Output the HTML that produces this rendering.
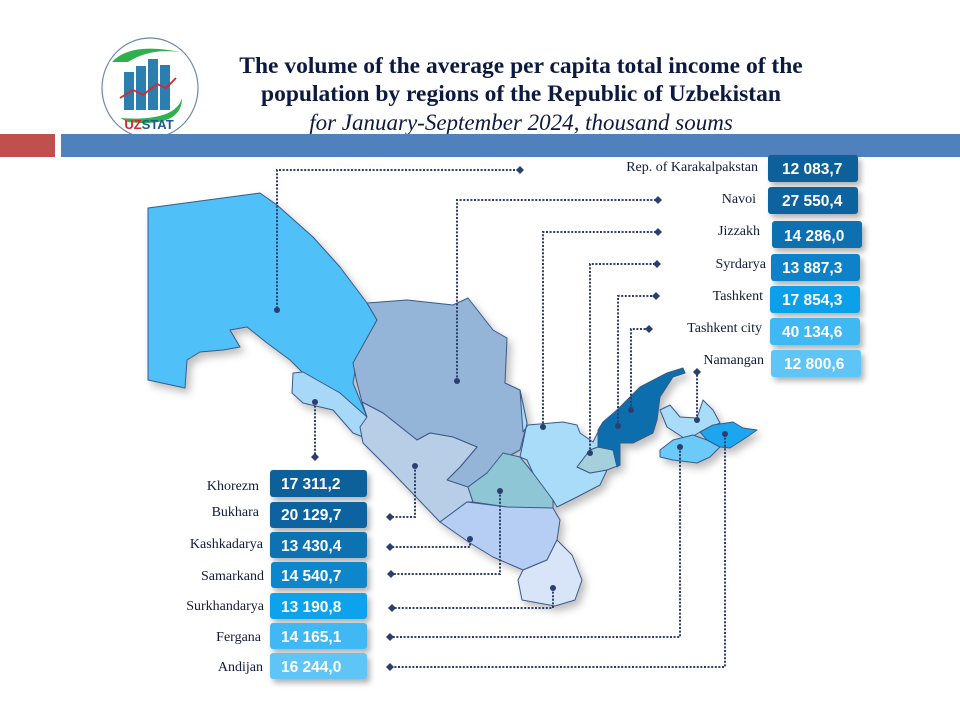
<!DOCTYPE html>
<html><head><meta charset="utf-8"><style>
body{margin:0;background:#fff;width:960px;height:720px;overflow:hidden;font-family:"Liberation Serif",serif}
svg{display:block}
.t{font-family:"Liberation Serif",serif;font-weight:bold;font-size:23.5px;fill:#0d1a40}
.s{font-family:"Liberation Serif",serif;font-style:italic;font-size:23px;fill:#0d1a40}
.l{font-family:"Liberation Serif",serif;font-size:14px;fill:#111a3a}
.v{font-family:"Liberation Sans",sans-serif;font-weight:bold;font-size:15.5px;fill:#fff}
.d{fill:none;stroke:#2a3f6e;stroke-width:2;stroke-dasharray:2 1.6}
.m path{stroke:#3a5a88;stroke-width:1;stroke-linejoin:round}
</style></head><body>
<svg width="960" height="720" viewBox="0 0 960 720" xmlns="http://www.w3.org/2000/svg">
<defs>
<filter id="sh" x="-20%" y="-20%" width="150%" height="160%"><feDropShadow dx="3" dy="4" stdDeviation="3" flood-color="#000" flood-opacity="0.3"/></filter>
<filter id="ms" x="-10%" y="-10%" width="130%" height="130%"><feDropShadow dx="4" dy="5" stdDeviation="4" flood-color="#000" flood-opacity="0.25"/></filter>
</defs>
<!-- logo -->
<ellipse cx="150" cy="88" rx="48" ry="50" fill="#fff" stroke="#6a8ab0" stroke-width="1.2"/>
<path d="M112 62 Q130 42 180 52 Q150 48 128 62 Z" fill="#2eb04a"/>
<path d="M120 118 Q175 122 182 98 Q182 128 128 122 Z" fill="#2eb04a"/>
<rect x="124" y="72" width="10" height="38" fill="#2a7fb0"/>
<rect x="136" y="66" width="10" height="44" fill="#2a7fb0"/>
<rect x="148" y="59" width="10" height="51" fill="#2a7fb0"/>
<rect x="160" y="65" width="10" height="45" fill="#2a7fb0"/>
<polyline points="120,98 133,90 143,95 157,84 166,88 176,78" fill="none" stroke="#d8262e" stroke-width="1.8"/>
<text x="149" y="129" text-anchor="middle" font-family="Liberation Sans,sans-serif" font-weight="bold" font-size="13"><tspan fill="#d8262e">UZ</tspan><tspan fill="#1f5a8a">STAT</tspan></text>
<!-- title -->
<text class="t" x="521" y="73" text-anchor="middle">The volume of the average per capita total income of the</text>
<text class="t" x="521" y="101" text-anchor="middle">population by regions of the Republic of Uzbekistan</text>
<text class="s" x="521" y="130" text-anchor="middle">for January-September 2024, thousand soums</text>
<rect x="0" y="134" width="55" height="23" fill="#c0504d"/>
<rect x="61" y="134" width="899" height="23" fill="#4f81bd"/>
<!-- map -->
<g class="m" filter="url(#ms)">
<path fill="#4fc0f8" d="M148,208 L260,193 L277,205 L313,237 L340,267 L367,303 L377,320 L357,360 L353,383 L367,417 L353,413 L340,393 L307,377 L290,360 L267,343 L247,327 L230,330 L240,347 L223,350 L200,352 L187,360 L185,388 L148,380 Z"/>
<path fill="#a8d8f8" d="M293,373 L303,372 L340,393 L367,417 L369,425 L363,437 L353,433 L333,410 L303,403 L292,393 Z"/>
<path fill="#94b4d8" d="M367,303 L407,300 L453,305 L468,298 L493,330 L507,338 L505,383 L520,390 L527,423 L520,450 L507,457 L487,473 L468,487 L460,493 L447,480 L460,467 L477,447 L453,437 L430,433 L417,440 L383,413 L362,402 L357,383 L353,363 L377,320 Z"/>
<path fill="#b8cde6" d="M362,402 L383,413 L417,440 L430,433 L453,437 L477,447 L460,467 L447,480 L468,487 L473,502 L467,502 L440,522 L393,473 L363,443 L360,427 L367,417 Z"/>
<path fill="#8fc6d6" d="M468,487 L487,473 L503,453 L520,457 L533,473 L553,480 L553,508 L530,510 L507,507 L473,502 Z"/>
<path fill="#b6cdf4" d="M440,522 L467,502 L507,507 L553,508 L560,520 L557,540 L547,560 L523,570 L493,557 L470,543 Z"/>
<path fill="#d8e5f8" d="M523,570 L547,560 L557,540 L572,555 L582,580 L575,600 L555,606 L522,600 L518,580 Z"/>
<path fill="#a8dcf8" d="M520,390 L523,432 L528,425 L563,422 L577,425 L580,433 L593,442 L598,432 L598,447 L590,450 L577,467 L590,473 L607,470 L600,485 L577,497 L557,507 L553,500 L533,473 L527,460 L520,457 L527,423 Z"/>
<path fill="#a6cfdc" d="M577,467 L590,450 L598,447 L613,450 L620,465 L607,470 L590,473 Z"/>
<path fill="#0b6eae" d="M598,430 L603,422 L617,410 L627,400 L640,387 L667,373 L683,368 L685,373 L673,377 L660,397 L657,420 L653,433 L633,443 L620,443 L620,465 L617,467 L613,450 L598,447 Z"/>
<path fill="#a8dcf8" d="M660,410 L670,405 L680,417 L697,418 L703,400 L713,410 L720,423 L700,432 L687,440 L667,427 Z"/>
<path fill="#6ccaf8" d="M660,450 L673,440 L693,435 L707,440 L720,447 L710,457 L697,463 L673,460 L660,457 Z"/>
<path fill="#1aa6f0" d="M700,432 L713,425 L733,422 L743,428 L757,430 L747,437 L730,448 L720,447 L707,440 Z"/>
</g>
<!-- leaders -->
<g fill="#2a3f6e">
<path class="d" d="M277,312 V170 H520"/><circle cx="277" cy="310" r="3"/><path d="M520,166 l4,4 -4,4 -4,-4z"/>
<path class="d" d="M457,381 V200 H658"/><circle cx="457" cy="381" r="3"/><path d="M658,196 l4,4 -4,4 -4,-4z"/>
<path class="d" d="M543,427 V232 H658"/><circle cx="543" cy="427" r="3"/><path d="M658,228 l4,4 -4,4 -4,-4z"/>
<path class="d" d="M590,453 V264 H657"/><circle cx="590" cy="453" r="3"/><path d="M657,260 l4,4 -4,4 -4,-4z"/>
<path class="d" d="M618,426 V296 H656"/><circle cx="618" cy="426" r="3"/><path d="M656,292 l4,4 -4,4 -4,-4z"/>
<path class="d" d="M631,410 V329 H649"/><circle cx="631" cy="410" r="3"/><path d="M649,325 l4,4 -4,4 -4,-4z"/>
<path class="d" d="M697,420 V372"/><circle cx="697" cy="420" r="3"/><path d="M697,368 l4,4 -4,4 -4,-4z"/>
<path class="d" d="M315,402 V457"/><circle cx="315" cy="402" r="3"/><path d="M315,453 l4,4 -4,4 -4,-4z"/>
<path class="d" d="M415,466 V517 H390"/><circle cx="415" cy="466" r="3"/><path d="M390,513 l4,4 -4,4 -4,-4z"/>
<path class="d" d="M470,540 V547 H390"/><circle cx="470" cy="539" r="3"/><path d="M390,543 l4,4 -4,4 -4,-4z"/>
<path class="d" d="M500,491 V574 H391"/><circle cx="500" cy="491" r="3"/><path d="M391,570 l4,4 -4,4 -4,-4z"/>
<path class="d" d="M553,588 V608 H392"/><circle cx="553" cy="588" r="3"/><path d="M392,604 l4,4 -4,4 -4,-4z"/>
<path class="d" d="M680,447 V637 H390"/><circle cx="680" cy="447" r="3"/><path d="M390,633 l4,4 -4,4 -4,-4z"/>
<path class="d" d="M725,434 V667 H390"/><circle cx="725" cy="434" r="3"/><path d="M390,663 l4,4 -4,4 -4,-4z"/>
</g>
<!-- boxes -->
<g filter="url(#sh)">
<rect x="768" y="155" width="90" height="27" rx="3" fill="#09609a"/>
<rect x="768" y="187" width="90" height="27" rx="3" fill="#0a64a0"/>
<rect x="772" y="221" width="90" height="27" rx="3" fill="#0b70b0"/>
<rect x="771" y="254" width="89" height="27" rx="3" fill="#0f82c8"/>
<rect x="770" y="286" width="90" height="27" rx="3" fill="#11a0ea"/>
<rect x="770" y="318" width="90" height="27" rx="3" fill="#40b8f4"/>
<rect x="771" y="350" width="90" height="27" rx="3" fill="#5ec4f6"/>
<rect x="270" y="470" width="97" height="27" rx="3" fill="#09609a"/>
<rect x="270" y="502" width="97" height="26" rx="3" fill="#0a64a0"/>
<rect x="270" y="532" width="97" height="26" rx="3" fill="#0b72b2"/>
<rect x="271" y="562" width="96" height="26" rx="3" fill="#0f86cc"/>
<rect x="270" y="593" width="97" height="26" rx="3" fill="#11a2ec"/>
<rect x="270" y="623" width="97" height="26" rx="3" fill="#40b8f4"/>
<rect x="270" y="653" width="97" height="26" rx="3" fill="#5ec4f6"/>
</g>
<g class="v">
<text x="782" y="174">12 083,7</text>
<text x="782" y="206">27 550,4</text>
<text x="784" y="241">14 286,0</text>
<text x="782" y="273">13 887,3</text>
<text x="782" y="305">17 854,3</text>
<text x="782" y="337">40 134,6</text>
<text x="784" y="369">12 800,6</text>
<text x="281" y="489">17 311,2</text>
<text x="281" y="520">20 129,7</text>
<text x="281" y="551">13 430,4</text>
<text x="281" y="581">14 540,7</text>
<text x="281" y="612">13 190,8</text>
<text x="281" y="642">14 165,1</text>
<text x="281" y="672">16 244,0</text>
</g>
<g class="l" text-anchor="end">
<text x="758" y="171">Rep.  of  Karakalpakstan</text>
<text x="756" y="203">Navoi</text>
<text x="760" y="235">Jizzakh</text>
<text x="766" y="268">Syrdarya</text>
<text x="763" y="300">Tashkent</text>
<text x="762" y="332">Tashkent  city</text>
<text x="764" y="364">Namangan</text>
<text x="259" y="490">Khorezm</text>
<text x="259" y="516">Bukhara</text>
<text x="263" y="548">Kashkadarya</text>
<text x="264" y="580">Samarkand</text>
<text x="264" y="610">Surkhandarya</text>
<text x="261" y="641">Fergana</text>
<text x="263" y="671">Andijan</text>
</g>
</svg>
</body></html>
